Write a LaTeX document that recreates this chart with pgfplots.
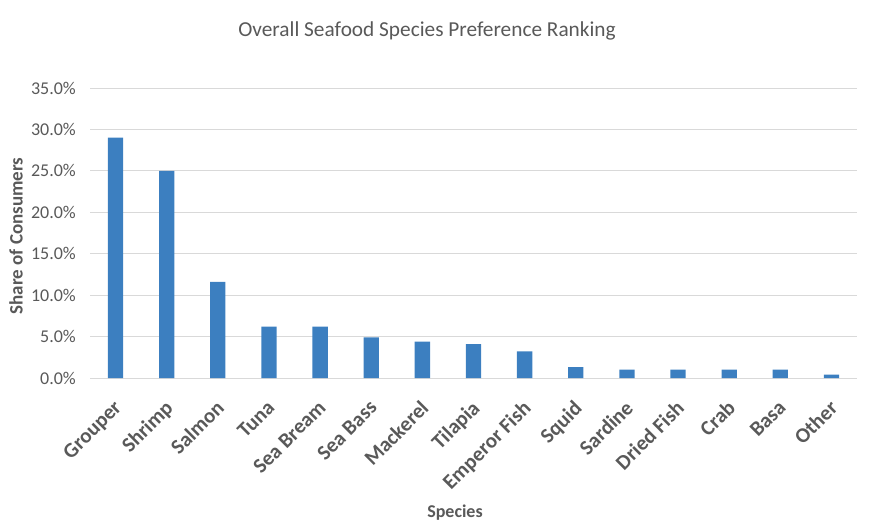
\documentclass[border=0pt]{standalone}
\usepackage{pgfplots}
\pgfplotsset{compat=1.18}
\usepackage{fontspec}
\setmainfont{Carlito}
\definecolor{barblue}{RGB}{60,127,192}
\definecolor{txtgray}{RGB}{89,89,89}
\definecolor{gridgray}{RGB}{217,217,217}
\begin{document}
\begin{tikzpicture}[x=1pt,y=1pt]
\path[use as bounding box] (0,0) rectangle (874,530);
\begin{axis}[
  at={(90pt,152pt)}, anchor=south west, scale only axis,
  width=767pt, height=290pt,
  xmin=-0.5, xmax=14.5, ymin=0, ymax=35,
  ytick={0,5,10,15,20,25,30,35},
  yticklabels={0.0\%,5.0\%,10.0\%,15.0\%,20.0\%,25.0\%,30.0\%,35.0\%},
  xtick={0,1,2,3,4,5,6,7,8,9,10,11,12,13,14},
  xticklabels={Grouper,Shrimp,Salmon,Tuna,Sea Bream,Sea Bass,Mackerel,Tilapia,Emperor Fish,Squid,Sardine,Dried Fish,Crab,Basa,Other},
  x tick label style={xshift=-3pt, yshift=-21pt, rotate=45, anchor=north east, font=\bfseries\fontsize{21}{21}\selectfont, text=txtgray, inner sep=0pt},
  y tick label style={font=\fontsize{18}{18}\selectfont, text=txtgray, inner sep=0pt, xshift=-14pt},
  ymajorgrids, grid style={gridgray, line width=0.8pt},
  axis x line*=bottom, axis y line*=left,
  y axis line style={draw=none},
  x axis line style={gridgray, line width=0.8pt},
  major tick length=0pt, tick style={draw=none},
  clip=false,
]
\addplot[ybar, bar width=15.3pt, fill=barblue, draw=none] coordinates {
(0,29.0) (1,25.0) (2,11.6) (3,6.2) (4,6.2) (5,4.9) (6,4.4) (7,4.1) (8,3.2) (9,1.3) (10,1.0) (11,1.0) (12,1.0) (13,1.0) (14,0.4)
};
\end{axis}
\node[font=\fontsize{21.3}{21.3}\selectfont, text=txtgray] at (427,499) {Overall Seafood Species Preference Ranking};
\node[font=\bfseries\fontsize{19}{19}\selectfont, text=txtgray, rotate=90] at (16,294) {Share of Consumers};
\node[font=\bfseries\fontsize{18}{18}\selectfont, text=txtgray] at (455,17) {Species};
\end{tikzpicture}
\end{document}
